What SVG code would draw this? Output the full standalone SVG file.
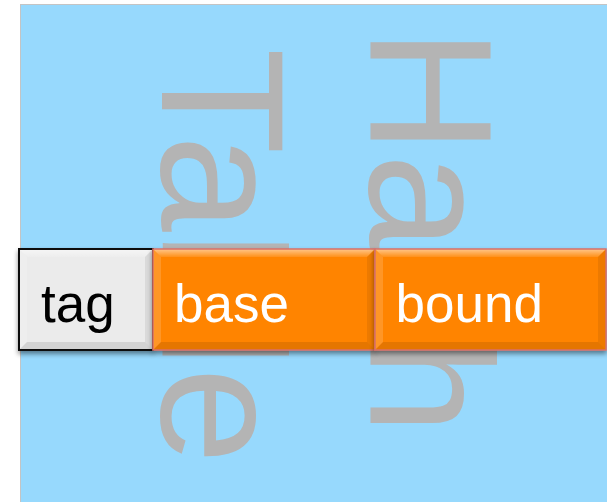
<svg xmlns="http://www.w3.org/2000/svg" width="607" height="502" viewBox="0 0 607 502">
  <style>
    .watermark { font-family: "Liberation Sans", Arial, sans-serif; font-size: 174px; fill: #b4b4b4; }
    .label { font-family: "Liberation Sans", Arial, sans-serif; font-size: 53px; }
    .bevel-top { fill: url(#topShine); }
    .bevel-left { fill: #ffffff; fill-opacity: 0.15; }
    .bevel-right { fill: #000000; fill-opacity: 0.07; }
    .bevel-bottom { fill: #000000; fill-opacity: 0.1; }
  </style>
  <defs>
    <linearGradient id="topShine" x1="0" y1="0" x2="0" y2="1">
      <stop offset="0" stop-color="#ffffff" stop-opacity="0.55"/>
      <stop offset="1" stop-color="#ffffff" stop-opacity="0.1"/>
    </linearGradient>
    <filter id="shadow" x="-10%" y="-20%" width="120%" height="150%">
      <feGaussianBlur in="SourceAlpha" stdDeviation="2.5"/>
      <feOffset dx="0" dy="3" result="blur"/>
      <feComponentTransfer><feFuncA type="linear" slope="0.45"/></feComponentTransfer>
      <feMerge><feMergeNode/><feMergeNode in="SourceGraphic"/></feMerge>
    </filter>
  </defs>

  <!-- panel -->
  <rect x="20.5" y="4.5" width="590" height="500" fill="#97d9fd" stroke="#c4c4c4" stroke-width="1"/>

  <!-- vertical background titles -->
  <text class="watermark" transform="translate(162,48) rotate(90)">Table</text>
  <text class="watermark" transform="translate(370,28) rotate(90)">Hash</text>

  <!-- record fields -->
  <g id="tag" filter="url(#shadow)">
    <g transform="translate(19,249)">
      <rect x="0" y="0" width="134" height="101" fill="#ebebeb"/>
      <polygon class="bevel-top" points="0,0 134,0 126,8 8,8"/>
      <polygon class="bevel-left" points="0,0 8,8 8,93 0,101"/>
      <polygon class="bevel-right" points="134,0 134,101 126,93 126,8"/>
      <polygon class="bevel-bottom" points="0,101 8,93 126,93 134,101"/>
      <rect x="0" y="0" width="134" height="101" fill="none" stroke="#111111" stroke-width="2"/>
      <text class="label" x="22" y="73" fill="#000000">tag</text>
    </g>
  </g>

  <g id="base" filter="url(#shadow)">
    <g transform="translate(153,249)">
      <rect x="0" y="0" width="222" height="101" fill="#ff8400"/>
      <polygon class="bevel-top" points="0,0 222,0 214,8 8,8"/>
      <polygon class="bevel-left" points="0,0 8,8 8,93 0,101"/>
      <polygon class="bevel-right" points="222,0 222,101 214,93 214,8"/>
      <polygon class="bevel-bottom" points="0,101 8,93 214,93 222,101"/>
      <rect x="0" y="0" width="222" height="101" fill="none" stroke="#d8706a" stroke-width="1.5"/>
      <text class="label" x="21" y="73" fill="#ffffff">base</text>
    </g>
  </g>

  <g id="bound" filter="url(#shadow)">
    <g transform="translate(375,249)">
      <rect x="0" y="0" width="231" height="101" fill="#ff8400"/>
      <polygon class="bevel-top" points="0,0 231,0 223,8 8,8"/>
      <polygon class="bevel-left" points="0,0 8,8 8,93 0,101"/>
      <polygon class="bevel-right" points="231,0 231,101 223,93 223,8"/>
      <polygon class="bevel-bottom" points="0,101 8,93 223,93 231,101"/>
      <rect x="0" y="0" width="231" height="101" fill="none" stroke="#d8706a" stroke-width="1.5"/>
      <text class="label" x="20.5" y="73" fill="#ffffff">bound</text>
    </g>
  </g>

  <g id="connectors"/>
</svg>
